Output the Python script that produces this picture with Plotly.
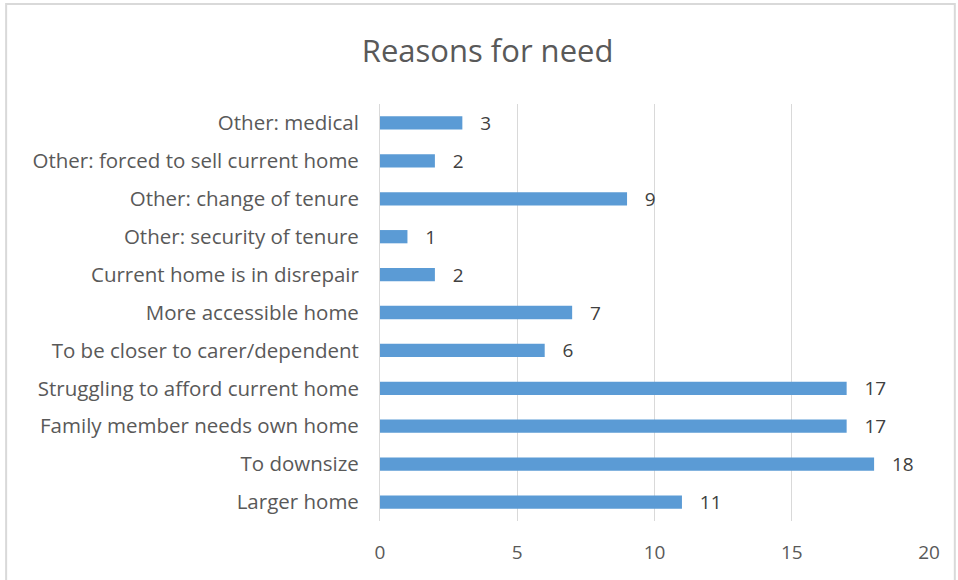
import plotly.graph_objects as go

categories = [
    "Larger home",
    "To downsize",
    "Family member needs own home",
    "Struggling to afford current home",
    "To be closer to carer/dependent",
    "More accessible home",
    "Current home is in disrepair",
    "Other: security of tenure",
    "Other: change of tenure",
    "Other: forced to sell current home",
    "Other: medical",
]
values = [11, 18, 17, 17, 6, 7, 2, 1, 9, 2, 3]
tick_vals = [0, 5, 10, 15, 20]

FONT = "Open Sans"

fig = go.Figure(go.Bar(
    y=categories, x=values, orientation="h",
    marker=dict(color="#5B9BD5", line=dict(width=0)),
    texttemplate="   %{x}", textposition="outside", constraintext="none",
    textfont=dict(size=19, color="#404040", family=FONT),
    cliponaxis=False,
))

fig.update_layout(
    width=958, height=580,
    margin=dict(l=380, r=29, t=104, b=59),
    paper_bgcolor="white", plot_bgcolor="white",
    bargap=0.65,
    showlegend=False,
    title=dict(text="Reasons for need", x=0.509, xanchor="center", y=0.912, yanchor="middle",
               font=dict(size=31, color="#595959", family=FONT)),
    font=dict(family=FONT, color="#595959", size=18),
    xaxis=dict(range=[0, 20], tickvals=tick_vals, showgrid=True, gridcolor="#D9D9D9", gridwidth=1,
               zeroline=False, showline=False, ticks="", tickfont=dict(size=19, color="#595959"),
               ticklabelstandoff=18),
    yaxis=dict(showgrid=False, showline=True, linecolor="#D9D9D9", linewidth=1, ticks="",
               tickfont=dict(size=20.5, color="#595959"), ticklabelstandoff=16),
    shapes=[dict(type="rect", xref="paper", yref="paper", x0=-0.681, x1=1.047, y0=-0.2, y1=1.24,
                 line=dict(color="#D9D9D9", width=2), fillcolor="rgba(0,0,0,0)", layer="below")],
)

fig.write_html("out.html")
